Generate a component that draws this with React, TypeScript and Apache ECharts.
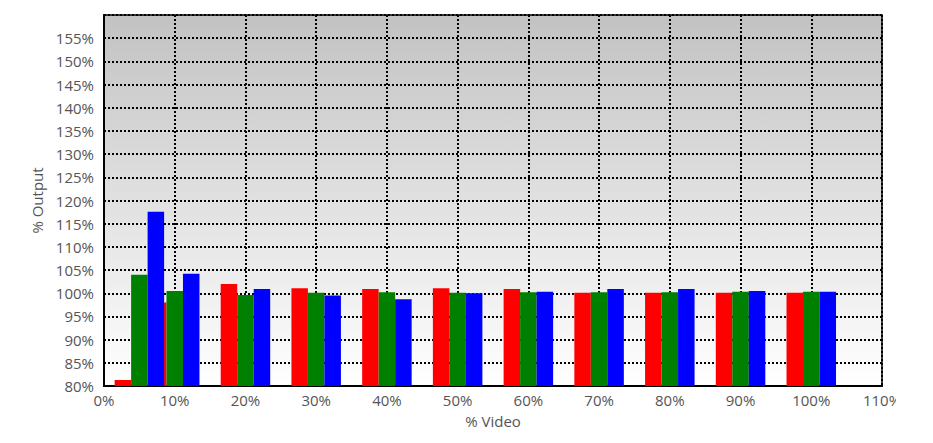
import React, { useEffect, useRef } from "react";
import * as echarts from "echarts";

const xPositions = [5, 10, 20, 30, 40, 50, 60, 70, 80, 90, 100];
const redValues = [81.3, 98, 102, 101.1, 100.9, 101.1, 100.9, 100.1, 100.1, 100.1, 100.1];
const greenValues = [104, 100.5, 99.6, 100.1, 100.2, 100.1, 100.2, 100.2, 100.2, 100.3, 100.3];
const blueValues = [117.6, 104.2, 100.9, 99.5, 98.7, 100.0, 100.3, 100.9, 100.9, 100.5, 100.3];
const seriesColors = ["#ff0000", "#008000", "#0000ff"];
const xAxisTitle = "% Video";
const yAxisTitle = "% Output";

const FONT = "'Open Sans', 'Noto Sans', sans-serif";
const LABEL_COLOR = "#555555";

export default function App() {
  const ref = useRef<HTMLDivElement>(null);
  useEffect(() => {
    if (!ref.current) return;
    const chart = echarts.init(ref.current, null, { renderer: "svg" });
    const mk = (vals: number[]) => xPositions.map((x, i) => [x, vals[i]]);
    const dotted = { show: true, lineStyle: { color: "#000", type: [2, 2], width: 2 } };
    chart.setOption({
      animation: false,
      grid: {
        left: 104,
        top: 15,
        right: 14,
        bottom: 57,
        outerBoundsMode: "none",
        containLabel: false,
        show: true,
        borderColor: "#000",
        borderWidth: 1.5,
        backgroundColor: new echarts.graphic.LinearGradient(0, 0, 0, 1, [
          { offset: 0, color: "#c2c2c2" },
          { offset: 1, color: "#ffffff" },
        ]),
      },
      xAxis: {
        type: "value",
        min: 0,
        max: 110,
        interval: 10,
        name: xAxisTitle,
        nameLocation: "middle",
        nameGap: 27,
        nameTextStyle: { fontFamily: FONT, fontSize: 15, color: LABEL_COLOR },
        axisLine: { show: true, lineStyle: { color: "#000", width: 2 } },
        axisTick: { show: false },
        axisLabel: {
          formatter: (v: number) => `${v}%`,
          fontFamily: FONT,
          fontSize: 15,
          color: LABEL_COLOR,
          margin: 6,
          showMaxLabel: true,
          hideOverlap: false,
        },
        splitLine: dotted,
      },
      yAxis: {
        type: "value",
        min: 80,
        max: 160,
        interval: 5,
        name: yAxisTitle,
        nameLocation: "middle",
        nameGap: 60,
        nameRotate: 90,
        nameTextStyle: { fontFamily: FONT, fontSize: 15, color: LABEL_COLOR },
        axisLine: { show: true, lineStyle: { color: "#000", width: 2 } },
        axisTick: { show: false },
        axisLabel: {
          formatter: (v: number) => (v >= 160 ? "" : `${v}%`),
          fontFamily: FONT,
          fontSize: 15,
          color: LABEL_COLOR,
          margin: 10,
        },
        splitLine: dotted,
      },
      series: [redValues, greenValues, blueValues].map((vals, i) => ({
        type: "bar",
        data: mk(vals),
        barWidth: 16.5,
        barGap: "0%",
        itemStyle: { color: seriesColors[i] },
        clip: true,
      })),
    });
    return () => chart.dispose();
  }, []);
  return (
    <div
      ref={ref}
      style={{ position: "absolute", left: 0, top: 0, width: 896, height: 443, overflow: "hidden" }}
    />
  );
}
